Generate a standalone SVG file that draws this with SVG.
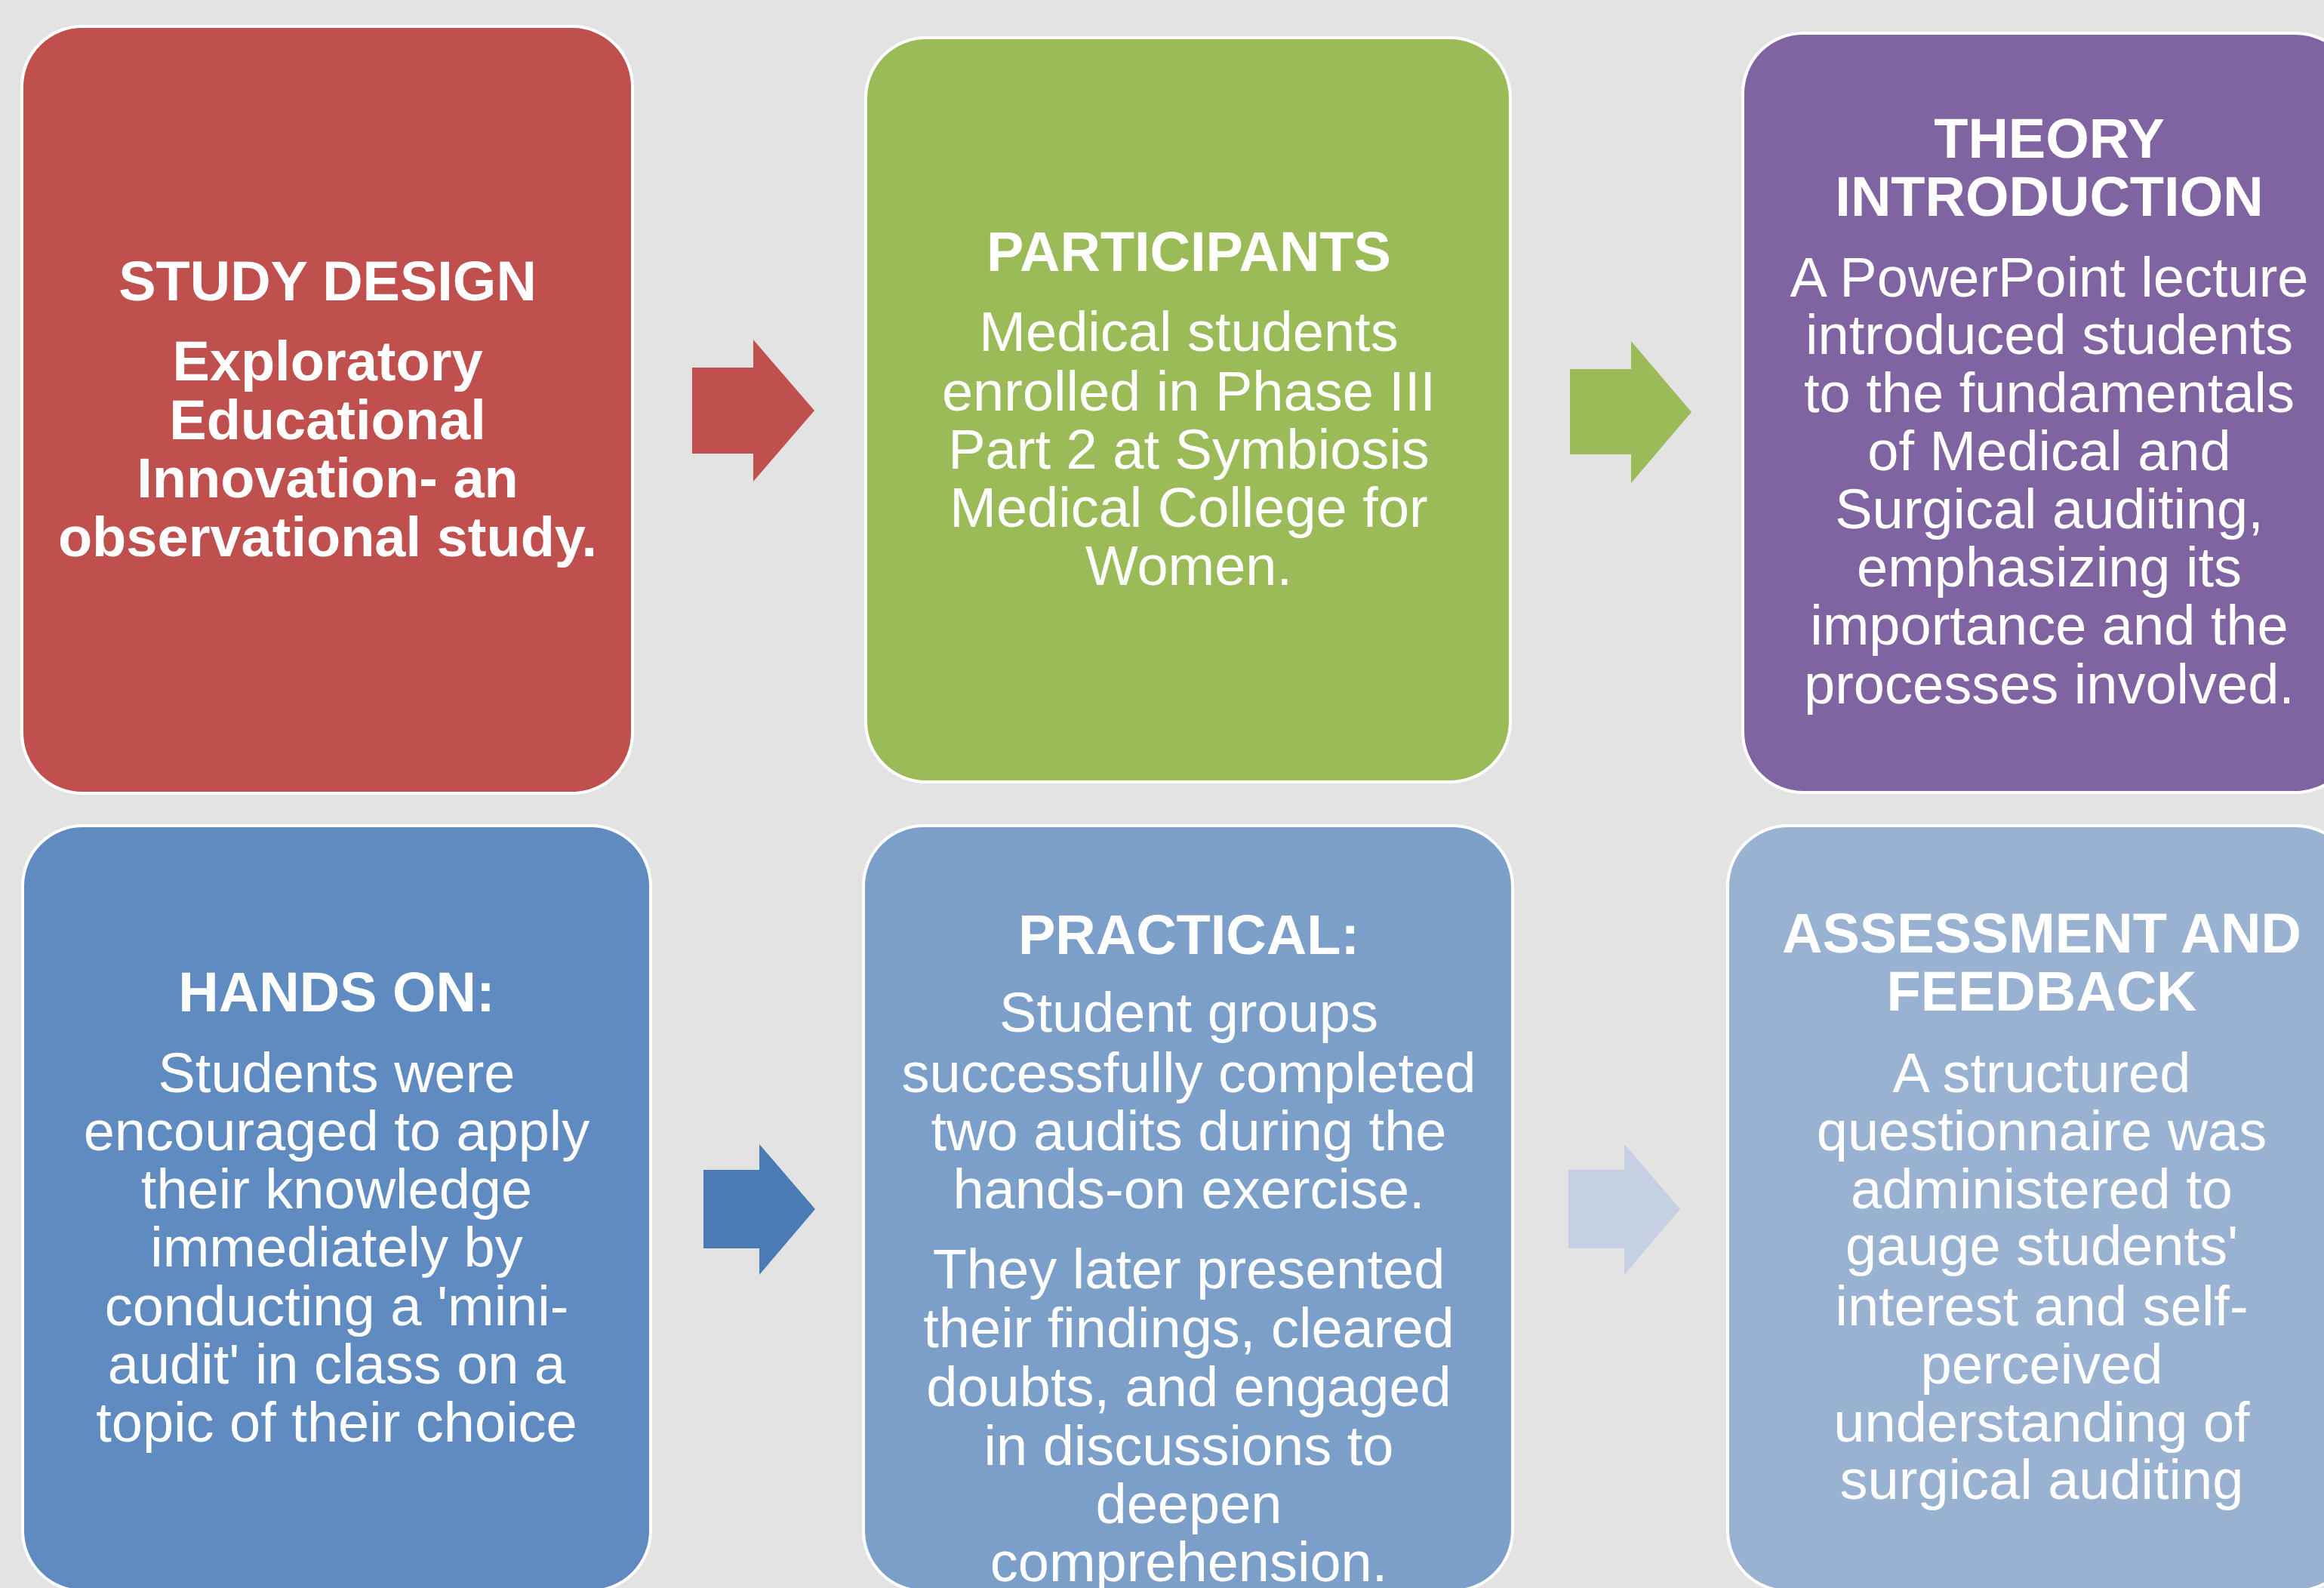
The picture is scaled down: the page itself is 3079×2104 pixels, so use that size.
<svg xmlns="http://www.w3.org/2000/svg" width="3079" height="2104" viewBox="0 0 3079 2104">
<style>
.box{stroke:#FFFFFF;stroke-width:4}
text{font-family:"Liberation Sans",Arial,sans-serif;font-size:74px;fill:#FFFFFF;text-anchor:middle}
.t{font-weight:bold}
</style>
<rect x="0" y="0" width="3079" height="2104" fill="#E3E3E3"/>
<g id="connectors">
<polygon points="917,487 998,487 998,450 1079,544 998,638 998,601 917,601" fill="#C0504D"/>
<polygon points="2080,489 2161,489 2161,452 2241,546 2161,640 2161,602 2080,602" fill="#9BBB59"/>
<polygon points="932,1550 1006,1550 1006,1516 1080,1602 1006,1689 1006,1654 932,1654" fill="#4A7BB5"/>
<polygon points="2078,1550 2152,1550 2152,1516 2226,1602 2152,1689 2152,1654 2078,1654" fill="#C5D0E3"/>
</g>
<g id="study-design">
<rect class="box" x="29" y="35" width="809" height="1016" rx="80" fill="#C0504D"/>
<text class="t" x="434" y="398">STUDY DESIGN</text>
<text class="t" x="434" y="504">Exploratory</text>
<text class="t" x="434" y="582">Educational</text>
<text class="t" x="434" y="659">Innovation- an</text>
<text class="t" x="434" y="737">observational study.</text>
</g>
<g id="participants">
<rect class="box" x="1147" y="50" width="854" height="986" rx="80" fill="#9BBB59"/>
<text class="t" x="1575" y="359">PARTICIPANTS</text>
<text x="1575" y="465">Medical students</text>
<text x="1575" y="544">enrolled in Phase III</text>
<text x="1575" y="621">Part 2 at Symbiosis</text>
<text x="1575" y="698">Medical College for</text>
<text x="1575" y="775">Women.</text>
</g>
<g id="theory-introduction">
<rect class="box" x="2309" y="44" width="812" height="1006" rx="80" fill="#8064A2"/>
<text class="t" x="2715" y="209">THEORY</text>
<text class="t" x="2715" y="286">INTRODUCTION</text>
<text x="2715" y="393">A PowerPoint lecture</text>
<text x="2715" y="469">introduced students</text>
<text x="2715" y="546">to the fundamentals</text>
<text x="2715" y="623">of Medical and</text>
<text x="2715" y="700">Surgical auditing,</text>
<text x="2715" y="777">emphasizing its</text>
<text x="2715" y="854">importance and the</text>
<text x="2715" y="932">processes involved.</text>
</g>
<g id="hands-on">
<rect class="box" x="30" y="1094" width="832" height="1014" rx="80" fill="#5F8BC1"/>
<text class="t" x="446" y="1340">HANDS ON:</text>
<text x="446" y="1447">Students were</text>
<text x="446" y="1524">encouraged to apply</text>
<text x="446" y="1601">their knowledge</text>
<text x="446" y="1678">immediately by</text>
<text x="446" y="1756">conducting a 'mini-</text>
<text x="446" y="1833">audit' in class on a</text>
<text x="446" y="1910">topic of their choice</text>
</g>
<g id="practical">
<rect class="box" x="1144" y="1094" width="860" height="1014" rx="80" fill="#7B9FC9"/>
<text class="t" x="1575" y="1264">PRACTICAL:</text>
<text x="1575" y="1367">Student groups</text>
<text x="1575" y="1447">successfully completed</text>
<text x="1575" y="1524">two audits during the</text>
<text x="1575" y="1601">hands-on exercise.</text>
<text x="1575" y="1707">They later presented</text>
<text x="1575" y="1785">their findings, cleared</text>
<text x="1575" y="1863">doubts, and engaged</text>
<text x="1575" y="1941">in discussions to</text>
<text x="1575" y="2018">deepen</text>
<text x="1575" y="2095">comprehension.</text>
</g>
<g id="assessment-feedback">
<rect class="box" x="2289" y="1094" width="832" height="1014" rx="80" fill="#9AB2D1"/>
<text class="t" x="2705" y="1262">ASSESSMENT AND</text>
<text class="t" x="2705" y="1339">FEEDBACK</text>
<text x="2705" y="1447">A structured</text>
<text x="2705" y="1524">questionnaire was</text>
<text x="2705" y="1601">administered to</text>
<text x="2705" y="1676">gauge students'</text>
<text x="2705" y="1756">interest and self-</text>
<text x="2705" y="1833">perceived</text>
<text x="2705" y="1910">understanding of</text>
<text x="2705" y="1986">surgical auditing</text>
</g>
</svg>
